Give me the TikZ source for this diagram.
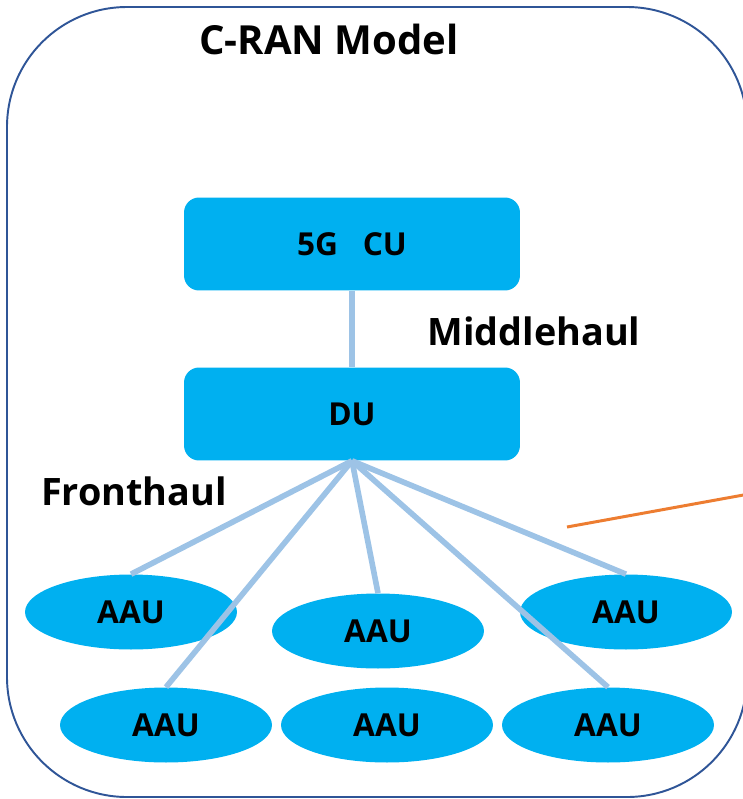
\documentclass[tikz,border=0pt]{standalone}
\usepackage{fontspec}
\setmainfont{Open Sans}
\definecolor{boxcolor}{HTML}{00B0F0}
\definecolor{linkcolor}{HTML}{9DC3E6}
\definecolor{framecolor}{HTML}{2F5597}
\definecolor{notecolor}{HTML}{ED7D31}
\usepackage{tikz}
\usetikzlibrary{shapes.geometric}

\begin{document}
\begin{tikzpicture}[x=0.02cm, y=-0.02cm]

    \tikzset{%
        ranbox/.style={rectangle, rounded corners=0.3cm, fill=boxcolor,
                minimum width=6.72cm, minimum height=1.86cm, inner sep=0pt,
                font=\fontsize{18pt}{20pt}\selectfont\bfseries},
        aau/.style={ellipse, fill=boxcolor, minimum width=4.24cm,
                minimum height=1.5cm, inner sep=0pt,
                font=\fontsize{18pt}{20pt}\selectfont\bfseries},
        link/.style={draw=linkcolor, line width=3.2pt},
        haullabel/.style={anchor=base, inner sep=0pt,
                font=\fontsize{21.5pt}{26pt}\selectfont\bfseries}
    }

    \useasboundingbox (0, 0) rectangle (743, 799);
    \clip (0, 0) rectangle (743, 799);

    \draw [framecolor, line width=1.1pt, rounded corners=2.4cm] (7, 7) rectangle (747, 797);

    \node [haullabel, font=\fontsize{22.8pt}{26pt}\selectfont\bfseries] (title) at (329, 54) {C-RAN Model};
    \node [haullabel] (middle) at (534, 345) {Middlehaul};
    \node [haullabel] (front) at (134, 505) {Fronthaul};

    \node [ranbox] (cu) at (352, 244) {5G~~~CU};
    \node [ranbox] (du) at (352, 414) {DU};

    \node [aau] (aau1) at (131, 612) {AAU};
    \node [aau] (aau2) at (378, 631) {AAU};
    \node [aau] (aau3) at (626, 612) {AAU};
    \node [aau] (aau4) at (166, 725) {AAU};
    \node [aau] (aau5) at (387, 725) {AAU};
    \node [aau] (aau6) at (608, 725) {AAU};

    \draw [link] (cu) -- (du);
    \foreach \k in {1, 2, 3, 4, 6} {%
            \draw [link] (du.south) -- (aau\k.north);
        }

    % callout running off the right edge
    \coordinate (notestart) at (567, 527);
    \coordinate (noteend) at (760, 492);
    \draw [notecolor, line width=1.7pt] (notestart) -- (noteend);

\end{tikzpicture}
\end{document}
